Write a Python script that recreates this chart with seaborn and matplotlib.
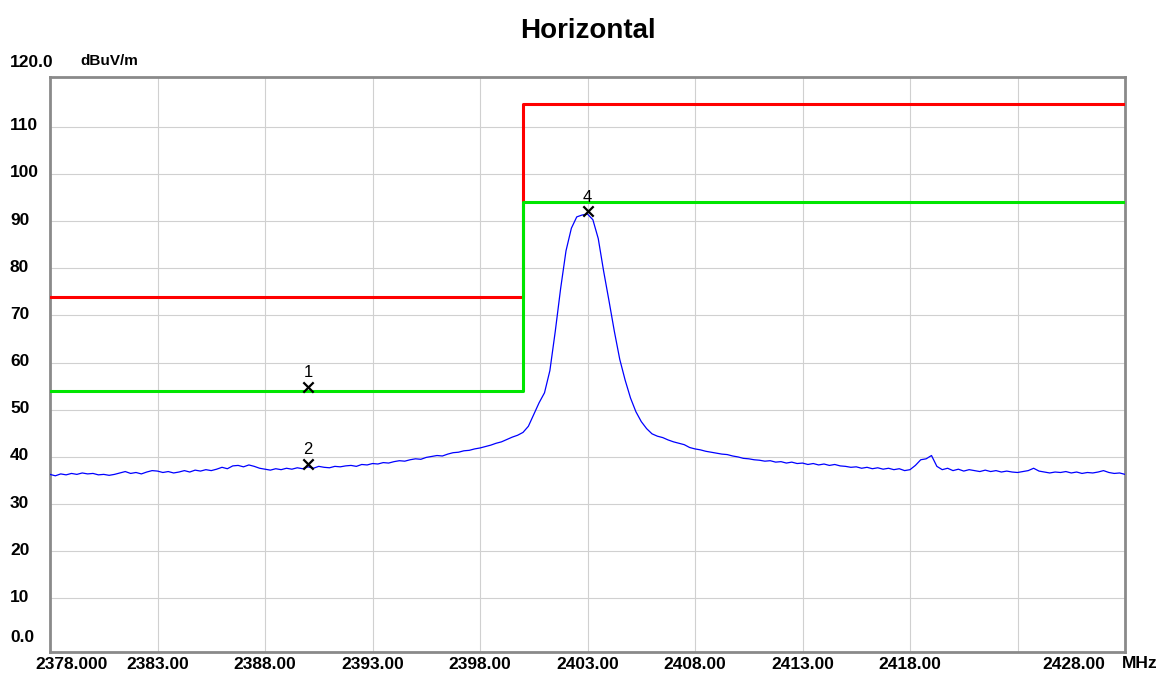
import numpy as np
import pandas as pd
import seaborn as sns
import matplotlib.pyplot as plt
from matplotlib.transforms import ScaledTranslation

# sweep samples every 0.25 MHz, levels (dBuV/m)
freq = np.arange(2378.0, 2428.01, 0.25)
level = [
    36.3, 36.0, 36.4, 36.2, 36.5, 36.3, 36.6, 36.4,
    36.5, 36.2, 36.3, 36.1, 36.3, 36.6, 36.9, 36.5,
    36.7, 36.4, 36.8, 37.1, 37.0, 36.7, 36.9, 36.6,
    36.8, 37.1, 36.8, 37.2, 37.0, 37.3, 37.1, 37.4,
    37.8, 37.5, 38.1, 38.2, 37.9, 38.3, 38.0, 37.6,
    37.4, 37.2, 37.5, 37.3, 37.6, 37.4, 37.7, 37.5,
    37.9, 37.6, 38.0, 37.8, 37.7, 38.0, 37.9, 38.1,
    38.2, 38.0, 38.4, 38.3, 38.6, 38.5, 38.8, 38.7,
    39.0, 39.2, 39.1, 39.4, 39.6, 39.5, 39.9, 40.1,
    40.3, 40.2, 40.6, 40.9, 41.0, 41.3, 41.4, 41.7,
    41.9, 42.2, 42.5, 42.9, 43.2, 43.7, 44.2, 44.6,
    45.2, 46.5, 49.0, 51.5, 53.6, 58.3, 66.6, 75.7,
    83.7, 88.5, 90.9, 91.3, 91.5, 90.3, 86.3, 79.4,
    73.1, 66.6, 60.7, 56.3, 52.5, 49.6, 47.5, 46.0,
    44.9, 44.4, 44.1, 43.6, 43.2, 42.9, 42.6, 42.0,
    41.7, 41.5, 41.2, 41.0, 40.8, 40.6, 40.5, 40.2,
    40.0, 39.7, 39.6, 39.4, 39.3, 39.1, 39.2, 38.9,
    39.0, 38.7, 38.9, 38.6, 38.7, 38.4, 38.6, 38.3,
    38.5, 38.2, 38.4, 38.1, 38.0, 37.8, 37.9, 37.6,
    37.8, 37.5, 37.7, 37.4, 37.6, 37.3, 37.5, 37.1,
    37.3, 38.2, 39.4, 39.6, 40.3, 38.0, 37.3, 37.6,
    37.1, 37.4, 37.0, 37.3, 37.1, 36.9, 37.2, 36.9,
    37.1, 36.8, 37.0, 36.8, 36.7, 36.9, 37.1, 37.6,
    37.0, 36.8, 36.6, 36.8, 36.7, 36.9, 36.6, 36.8,
    36.5, 36.7, 36.6, 36.8, 37.1, 36.7, 36.5, 36.6,
    36.3,
]

# limit lines (step at band edge)
limit_freq = [2378.0, 2400.0, 2428.0]
peak_limit = [74.0, 114.8, 114.8]
avg_limit = [54.0, 94.0, 94.0]

# markers
marker_freq = [2390.0, 2390.0, 2403.0]
marker_level = [54.9, 38.6, 92.2]
marker_label = ["1", "2", "4"]

x_ticks = [2378, 2383, 2388, 2393, 2398, 2403, 2408, 2413, 2418, 2423, 2428]
x_labels = ["2378.000", "2383.00", "2388.00", "2393.00", "2398.00", "2403.00",
            "2408.00", "2413.00", "2418.00", "", "2428.00"]
y_ticks = [0, 10, 20, 30, 40, 50, 60, 70, 80, 90, 100, 110, 120]
y_labels = ["0.0", "10", "20", "30", "40", "50", "60", "70", "80", "90",
            "100", "110", "120.0"]

sns.set_style("white")
plt.rcParams['font.family'] = ['Liberation Sans', 'DejaVu Sans']
plt.rcParams['text.color'] = 'black'
plt.rcParams['xtick.color'] = 'black'
plt.rcParams['ytick.color'] = 'black'

df = pd.DataFrame({"freq": freq, "level": level})
lim = pd.DataFrame({"freq": limit_freq, "peak": peak_limit, "avg": avg_limit})
mk = pd.DataFrame({"freq": marker_freq, "level": marker_level})

fig = plt.figure(figsize=(11.64, 6.75), dpi=100)
ax = fig.add_axes([50 / 1164, 1 - 651.7 / 675, 1075 / 1164, (651.7 - 77.3) / 675])

sns.lineplot(data=lim, x="freq", y="peak", color="#ff0000", lw=2.2,
             drawstyle="steps-post", estimator=None, sort=False, ax=ax, zorder=3)
sns.lineplot(data=lim, x="freq", y="avg", color="#00e600", lw=2.2,
             drawstyle="steps-post", estimator=None, sort=False, ax=ax, zorder=3)
sns.lineplot(data=df, x="freq", y="level", color="#0000ff", lw=0.9,
             estimator=None, sort=False, ax=ax, zorder=4)
sns.scatterplot(data=mk, x="freq", y="level", marker="x", color="black",
                s=55, linewidth=1.6, ax=ax, zorder=5)
for f, v, t in zip(marker_freq, marker_level, marker_label):
    ax.annotate(t, (f, v), xytext=(0, 4.5), textcoords="offset points",
                ha="center", va="bottom", fontsize=12, zorder=6)

ax.set_xlim(2378, 2428)
ax.set_ylim(-1.3, 120.5)
ax.set_xlabel("")
ax.set_ylabel("")
ax.set_xticks(x_ticks)
ax.set_xticklabels(x_labels)
ax.set_yticks(y_ticks)
ax.set_yticklabels(y_labels)
ax.tick_params(axis="x", length=0, pad=4, labelsize=12.5)
ax.tick_params(axis="y", length=0, pad=0, labelsize=12.5)
for lab in ax.get_xticklabels() + ax.get_yticklabels():
    lab.set_fontweight("bold")

ax.grid(True, color="#d0d0d0", lw=0.8)
ax.set_axisbelow(True)
for s in ax.spines.values():
    s.set_visible(True)
    s.set_color("#8a8a8a")
    s.set_linewidth(2)

# y labels sit left-aligned at the figure edge, a little above their line
yt = ax.yaxis.get_major_ticks()
for tk, lab in zip(yt, ax.get_yticklabels()):
    dy = 2.5
    if lab.get_text() == "0.0":
        dy = 9.5
    if lab.get_text() == "120.0":
        dy = 19
    lab.set_horizontalalignment("left")
    lab.set_transform(lab.get_transform() + ScaledTranslation(-0.40, dy / 100, fig.dpi_scale_trans))
yt[0].gridline.set_visible(False)
yt[-1].gridline.set_visible(False)

xl = ax.get_xticklabels()
xl[0].set_horizontalalignment("left")
xl[0].set_transform(xl[0].get_transform() + ScaledTranslation(-0.15, 0, fig.dpi_scale_trans))
xl[-1].set_horizontalalignment("right")
xl[-1].set_transform(xl[-1].get_transform() + ScaledTranslation(-0.20, 0, fig.dpi_scale_trans))

ax.set_title("Horizontal", fontsize=20, fontweight="bold", pad=28, color="black")
fig.text(80 / 1164, 1 - 61 / 675, "dBuV/m", fontsize=11, fontweight="bold", va="center")
fig.text(1122 / 1164, 1 - 663 / 675, "MHz", fontsize=12.5, fontweight="bold", va="center")

fig.savefig("out.png", dpi=100)
